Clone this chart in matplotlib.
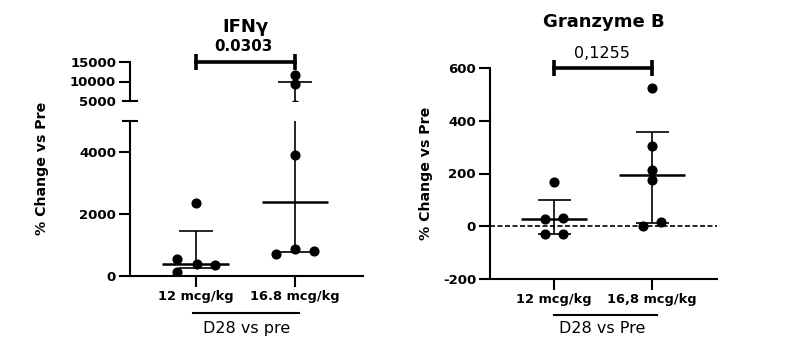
import numpy as np
import matplotlib
matplotlib.use("Agg")
import matplotlib.pyplot as plt
from matplotlib.lines import Line2D

# values (% change vs pre)
ifng_12 = [2360, 550, 390, 370, 140]
ifng_16 = [11700, 9300, 3900, 870, 710, 816]
gzb_12 = [167, 30, 28, -28, -30]
gzb_16 = [522, 304, 214, 176, 0, 17]

ifng_cats = ["12 mcg/kg", "16.8 mcg/kg"]
gzb_cats = ["12 mcg/kg", "16,8 mcg/kg"]
ifng_p = "0.0303"
gzb_p = "0,1255"

# horizontal scatter of the dots (layout only)
jit_ifng_12 = [0, -0.19, 0.01, 0.19, -0.19]
jit_ifng_16 = [0, 0, 0, 0, -0.19, 0.19]
jit_gzb_12 = [0, 0.09, -0.09, -0.09, 0.09]
jit_gzb_16 = [0, 0, 0, 0, -0.1, 0.09]

W, H = 792, 356
plt.rcParams['font.family'] = ['DejaVu Sans']
plt.rcParams['axes.unicode_minus'] = False
fig = plt.figure(figsize=(W / 100, H / 100), dpi=100)


def box(x0, x1, ytop, ybot):
    return [x0 / W, (H - ybot) / H, (x1 - x0) / W, (ybot - ytop) / H]


def px(x, y):
    return x / W, (H - y) / H


def style(ax, spines=("left", "bottom")):
    for s in ax.spines:
        ax.spines[s].set_visible(s in spines)
        ax.spines[s].set_linewidth(1.5)
    ax.tick_params(width=1.5, length=8, labelsize=9.5, pad=2)
    for lab in ax.get_yticklabels() + ax.get_xticklabels():
        lab.set_fontweight("bold")


def group(ax, x, vals, jit):
    vals = np.asarray(vals, float)
    q1, med, q3 = np.percentile(vals, [25, 50, 75], method="weibull")
    ax.vlines(x, q1, q3, color="k", lw=1.2, zorder=2)
    ax.hlines([q1, q3], x - 0.17, x + 0.17, color="k", lw=1.2, zorder=2)
    ax.hlines(med, x - 0.335, x + 0.335, color="k", lw=1.8, zorder=2)
    ax.plot(x + np.asarray(jit), vals, "o", color="k", ms=6.3, zorder=3)


# ---------------- IFNγ (broken y axis) ----------------
xl = (-0.662, 1.685)
ax_lo = fig.add_axes(box(130, 363, 121, 276))
ax_hi = fig.add_axes(box(130, 363, 62, 101))
for ax in (ax_lo, ax_hi):
    group(ax, 0, ifng_12, jit_ifng_12)
    group(ax, 1, ifng_16, jit_ifng_16)
    ax.set_xlim(*xl)
ax_lo.set_ylim(0, 5000)
ax_lo.set_yticks([0, 2000, 4000])
ax_lo.set_xticks([0, 1])
ax_lo.set_xticklabels(ifng_cats)
ax_hi.set_ylim(5000, 15000)
ax_hi.set_yticks([5000, 10000, 15000])
ax_hi.set_xticks([])
style(ax_lo)
style(ax_hi, spines=("left",))
ax_hi.yaxis.get_major_ticks()[0].tick1line.set_visible(False)
ax_lo.tick_params(axis="x", labelsize=9.4)
for lab in ax_lo.get_xticklabels():
    lab.set_fontweight("bold")
# break marks
for ax, yy in ((ax_lo, 1), (ax_hi, 0)):
    ax.plot([-0.03, 0.03], [yy, yy], transform=ax.transAxes, color="k",
            lw=1.5, clip_on=False)
# significance bracket
ax_hi.plot([0, 1], [15000, 15000], color="k", lw=2.6, marker="|", ms=11,
           mew=2.6, clip_on=False)
fig.text(*px(243.3, 50.7), ifng_p, ha="center", va="baseline",
         fontsize=10.8, fontweight="bold")
fig.text(*px(245.5, 31.7), "IFNγ", ha="center", va="baseline",
         fontsize=13, fontweight="bold")
fig.text(*px(41.7, 168.3), "% Change vs Pre", rotation=90, ha="center",
         va="center", fontsize=10.2, fontweight="bold")
fig.add_artist(Line2D([193.3 / W, 299.3 / W], [(H - 312.7) / H] * 2,
                      color="k", lw=1.5))
fig.text(*px(246.7, 333.3), "D28 vs pre", ha="center", va="baseline",
         fontsize=11.5)

# ---------------- Granzyme B ----------------
ax_g = fig.add_axes(box(490, 717, 67.7, 279.3))
ax_g.axhline(0, color="k", lw=1.2, ls=(0, (3, 1.5)), zorder=1)
group(ax_g, 0, gzb_12, jit_gzb_12)
group(ax_g, 1, gzb_16, jit_gzb_16)
ax_g.set_xlim(-0.656, 1.660)
ax_g.set_ylim(-200, 600)
ax_g.set_yticks([-200, 0, 200, 400, 600])
ax_g.set_xticks([0, 1])
ax_g.set_xticklabels(gzb_cats)
style(ax_g)
ax_g.tick_params(axis="x", labelsize=9.4)
for lab in ax_g.get_xticklabels():
    lab.set_fontweight("bold")
ax_g.plot([0, 1], [600, 600], color="k", lw=2.6, marker="|", ms=11,
          mew=2.6, clip_on=False)
fig.text(*px(601.7, 58.3), gzb_p, ha="center", va="baseline", fontsize=11.5)
fig.text(*px(604, 26.7), "Granzyme B", ha="center", va="baseline",
         fontsize=13, fontweight="bold")
fig.text(*px(426, 173), "% Change vs Pre", rotation=90, ha="center",
         va="center", fontsize=10.2, fontweight="bold")
fig.add_artist(Line2D([554 / W, 656.7 / W], [(H - 315) / H] * 2,
                      color="k", lw=1.5))
fig.text(*px(601.7, 333.3), "D28 vs Pre", ha="center", va="baseline",
         fontsize=11.5)

fig.savefig("out.png", dpi=100)
